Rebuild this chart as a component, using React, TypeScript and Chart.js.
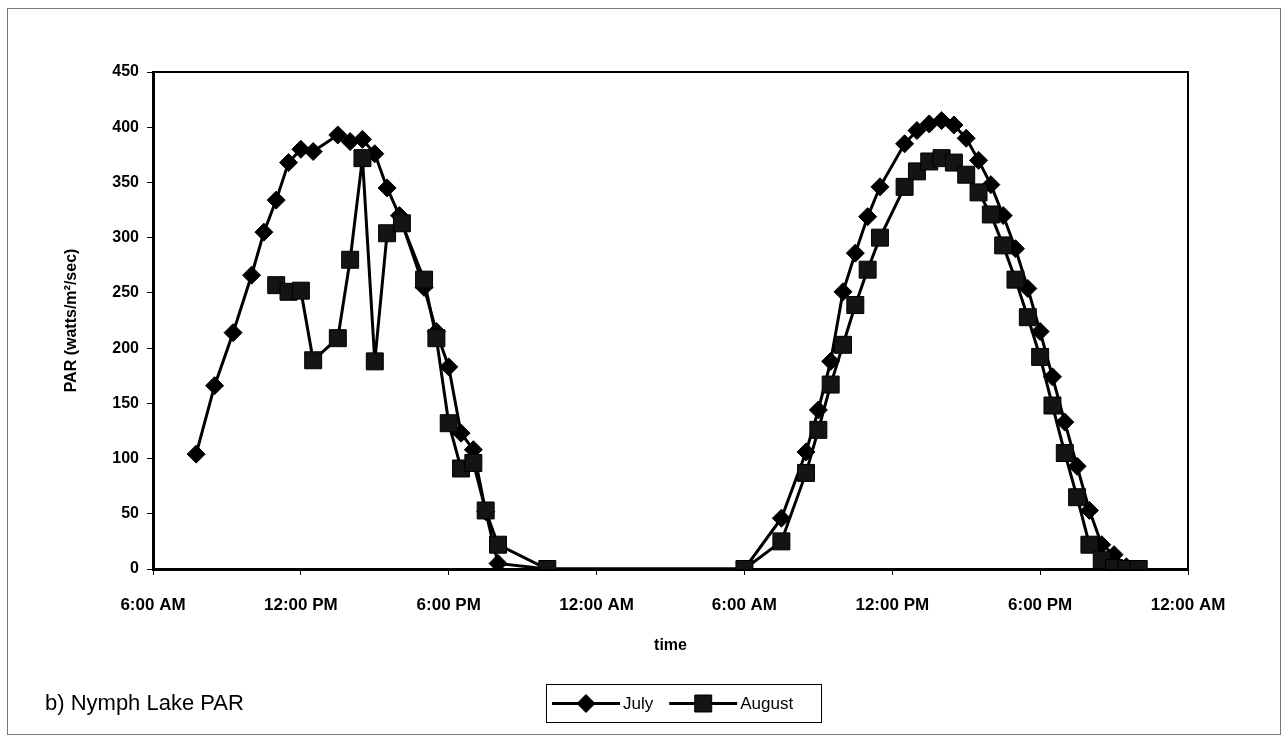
import React, { useEffect, useRef } from 'react';
import { Chart, registerables } from 'chart.js';

Chart.register(...registerables);

// ---- data (hours since midnight of day 1) ----
const xTickLabels = ['6:00 AM', '12:00 PM', '6:00 PM', '12:00 AM', '6:00 AM', '12:00 PM', '6:00 PM', '12:00 AM'];

const julyHours = [
  7.75, 8.5, 9.25, 10, 10.5, 11, 11.5, 12, 12.5, 13.5, 14, 14.5, 15, 15.5, 16, 17, 17.5, 18, 18.5, 19, 19.5, 20, 22,
  30, 31.5, 32.5, 33, 33.5, 34, 34.5, 35, 35.5, 36.5, 37, 37.5, 38, 38.5, 39, 39.5, 40, 40.5, 41, 41.5, 42, 42.5, 43,
  43.5, 44, 44.5, 45, 45.5, 46,
];
const julyPar = [
  104, 166, 214, 266, 305, 334, 368, 380, 378, 393, 387, 389, 376, 345, 320, 255, 215, 183, 123, 108, 52, 5, 0,
  0, 46, 106, 144, 188, 251, 286, 319, 346, 385, 397, 403, 406, 402, 390, 370, 348, 320, 290, 254, 215, 174, 133,
  93, 53, 22, 13, 2, 0,
];

const augustHours = [
  11, 11.5, 12, 12.5, 13.5, 14, 14.5, 15, 15.5, 16.1, 17, 17.5, 18, 18.5, 19, 19.5, 20, 22,
  30, 31.5, 32.5, 33, 33.5, 34, 34.5, 35, 35.5, 36.5, 37, 37.5, 38, 38.5, 39, 39.5, 40, 40.5, 41, 41.5, 42, 42.5, 43,
  43.5, 44, 44.5, 45, 45.5, 46,
];
const augustPar = [
  257, 251, 252, 189, 209, 280, 372, 188, 304, 313, 262, 209, 132, 91, 96, 53, 22, 0,
  0, 25, 87, 126, 167, 203, 239, 271, 300, 346, 360, 369, 372, 368, 357, 341, 321, 293, 262, 228, 192, 148, 105,
  65, 22, 8, 1, 0, 0,
];

const seriesNames = ['July', 'August'];
const chartTitle = 'b) Nymph Lake PAR';
const xAxisTitle = 'time';
const yAxisTitle = 'PAR (watts/m\u00B2/sec)';

const FONT = "'Liberation Sans', Arial, sans-serif";

function drawMarker(ctx: CanvasRenderingContext2D, style: string, x: number, y: number, r: number) {
  ctx.beginPath();
  if (style === 'rectRot') {
    ctx.moveTo(x, y - r);
    ctx.lineTo(x + r, y);
    ctx.lineTo(x, y + r);
    ctx.lineTo(x - r, y);
    ctx.closePath();
  } else {
    const s = Math.SQRT1_2 * r;
    ctx.rect(x - s, y - s, 2 * s, 2 * s);
  }
  ctx.fill();
  ctx.stroke();
}

const decorPlugin = {
  id: 'decor',
  beforeDraw(chart: any) {
    const { ctx, width, height } = chart;
    ctx.save();
    ctx.fillStyle = '#fff';
    ctx.fillRect(0, 0, width, height);
    ctx.restore();
  },
  afterDraw(chart: any) {
    const { ctx, chartArea } = chart;
    const { left, top, right, bottom } = chartArea;
    ctx.save();
    // plot frame (top + right)
    ctx.strokeStyle = '#000';
    ctx.lineWidth = 2;
    ctx.beginPath();
    ctx.moveTo(left, top);
    ctx.lineTo(right, top);
    ctx.lineTo(right, bottom);
    ctx.stroke();

    // outer chart frame
    ctx.strokeStyle = '#777';
    ctx.lineWidth = 1;
    ctx.strokeRect(7.5, 8.5, 1273, 726);

    // caption
    ctx.fillStyle = '#000';
    ctx.font = `22px ${FONT}`;
    ctx.textBaseline = 'middle';
    ctx.textAlign = 'left';
    ctx.fillText(chartTitle, 45, 704);

    // legend
    const bx = 546, by = 684, bw = 275, bh = 38;
    ctx.strokeStyle = '#000';
    ctx.lineWidth = 1;
    ctx.strokeRect(bx + 0.5, by + 0.5, bw, bh);
    const cy = by + bh / 2 + 0.5;
    ctx.font = `17px ${FONT}`;
    let x = bx + 6;
    chart.data.datasets.forEach((ds: any) => {
      ctx.strokeStyle = '#000';
      ctx.lineWidth = 3;
      ctx.beginPath();
      ctx.moveTo(x, cy);
      ctx.lineTo(x + 68, cy);
      ctx.stroke();
      ctx.fillStyle = ds.pointBackgroundColor;
      ctx.strokeStyle = '#000';
      ctx.lineWidth = 1;
      drawMarker(ctx, ds.pointStyle, x + 34, cy, ds.pointRadius);
      ctx.fillStyle = '#000';
      ctx.fillText(ds.label, x + 71, cy + 1);
      x += 71 + ctx.measureText(ds.label).width + 16;
    });
    ctx.restore();
  },
};

export default function App() {
  const ref = useRef<HTMLCanvasElement | null>(null);

  useEffect(() => {
    document.body.style.margin = '0';
    const canvas = ref.current;
    if (!canvas) return;
    const chart = new Chart(canvas, {
      type: 'line',
      data: {
        datasets: [
          {
            label: seriesNames[0],
            data: julyHours.map((h, i) => ({ x: h, y: julyPar[i] })),
            borderColor: '#000',
            borderWidth: 3,
            pointStyle: 'rectRot',
            pointRadius: 9,
            pointBackgroundColor: '#000',
            pointBorderColor: '#000',
            pointBorderWidth: 1,
            tension: 0,
            order: 1,
          },
          {
            label: seriesNames[1],
            data: augustHours.map((h, i) => ({ x: h, y: augustPar[i] })),
            borderColor: '#000',
            borderWidth: 3,
            pointStyle: 'rect',
            pointRadius: 12,
            pointBackgroundColor: '#141414',
            pointBorderColor: '#000',
            pointBorderWidth: 1,
            tension: 0,
            order: 0,
          },
        ],
      },
      options: {
        animation: false,
        responsive: false,
        devicePixelRatio: 1,
        layout: { padding: { top: 72, right: 100, bottom: 77, left: 0 } },
        plugins: {
          legend: { display: false },
          tooltip: { enabled: false },
          title: { display: false },
        },
        scales: {
          x: {
            type: 'linear',
            min: 6,
            max: 48,
            afterFit: (s: any) => { s.height = 90; },
            border: { display: true, color: '#000', width: 3 },
            grid: { display: true, drawOnChartArea: false, drawTicks: true, tickLength: 6, color: '#000', lineWidth: 1 },
            ticks: {
              stepSize: 6,
              autoSkip: false,
              maxRotation: 0,
              padding: 20,
              color: '#000',
              font: { family: FONT, size: 17, weight: 'bold' },
              callback: (v: any) => xTickLabels[Math.round((Number(v) - 6) / 6)] ?? '',
            },
            title: {
              display: true,
              text: xAxisTitle,
              color: '#000',
              font: { family: FONT, size: 16, weight: 'bold' },
              padding: { top: 0, bottom: 4 },
            },
          },
          y: {
            type: 'linear',
            min: 0,
            max: 450,
            afterFit: (s: any) => { s.width = 153; },
            border: { display: true, color: '#000', width: 3 },
            grid: { display: true, drawOnChartArea: false, drawTicks: true, tickLength: 6, color: '#000', lineWidth: 1 },
            ticks: {
              stepSize: 50,
              padding: 8,
              color: '#000',
              font: { family: FONT, size: 16, weight: 'bold' },
            },
            title: {
              display: true,
              text: yAxisTitle,
              color: '#000',
              font: { family: FONT, size: 16, weight: 'bold' },
              padding: { top: 62, bottom: 0 },
            },
          },
        },
      },
      plugins: [decorPlugin],
    });
    return () => chart.destroy();
  }, []);

  return (
    <div style={{ width: 1288, height: 736 }}>
      <canvas ref={ref} width={1288} height={736} style={{ display: 'block' }} />
    </div>
  );
}
